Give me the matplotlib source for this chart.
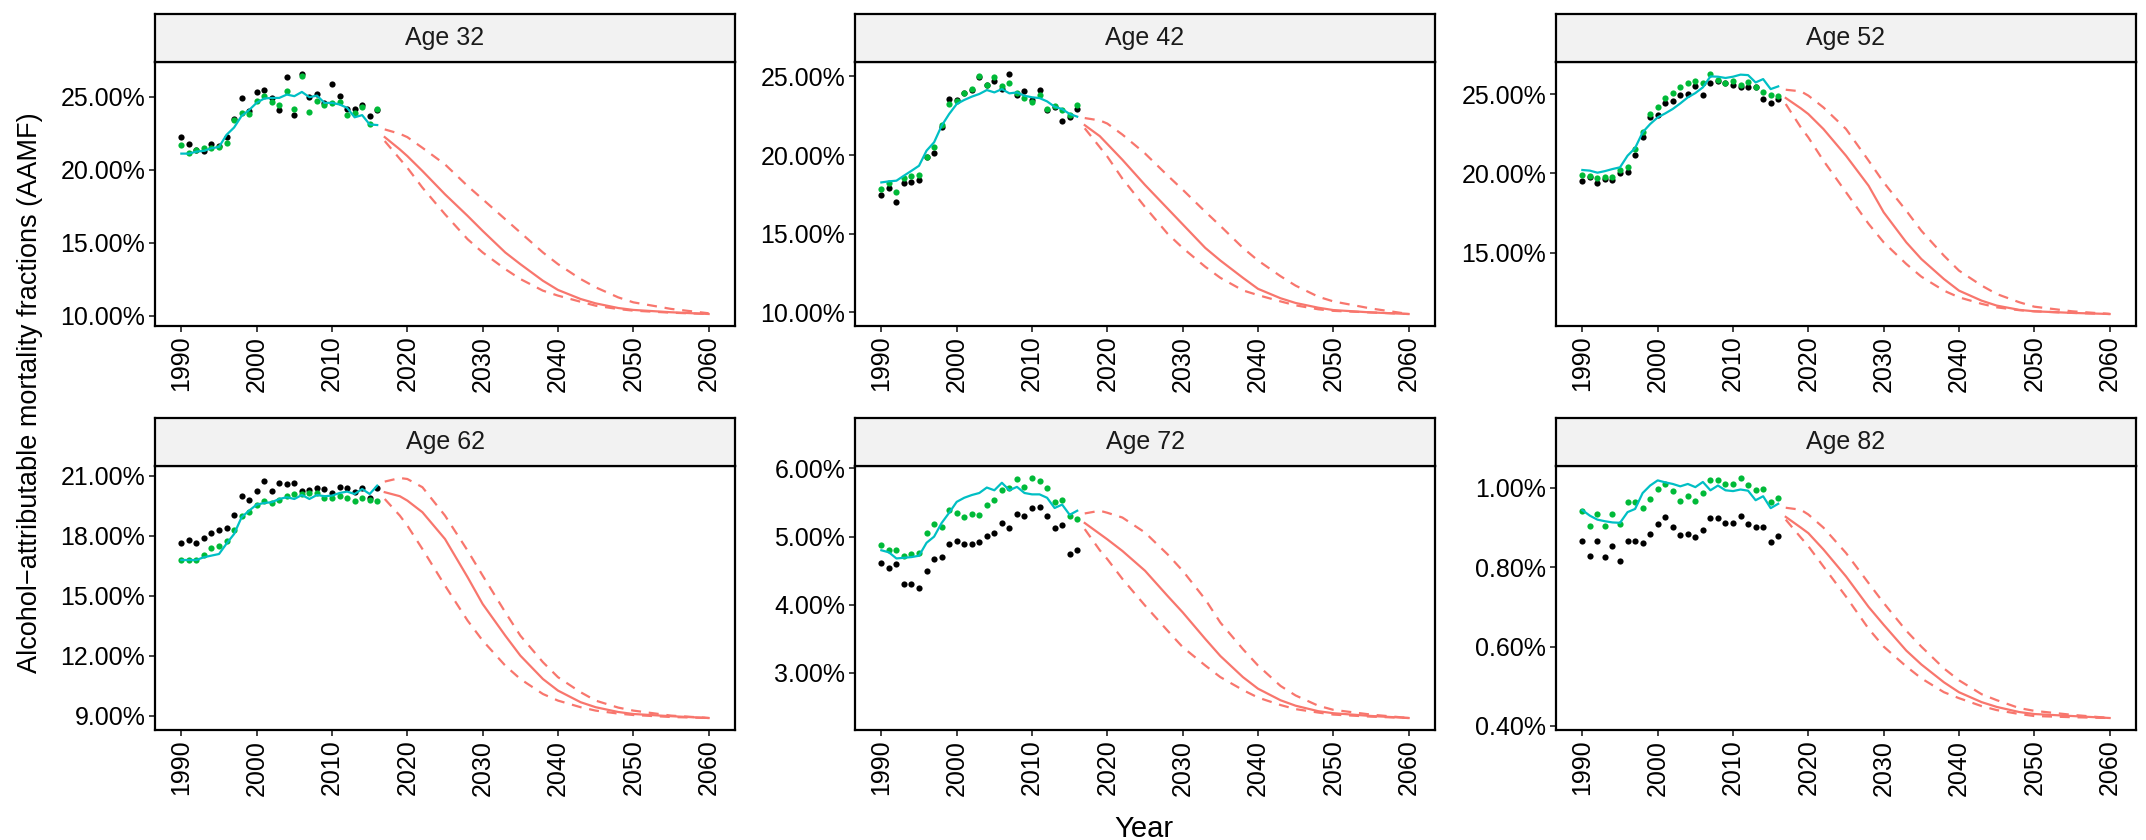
import numpy as np
import matplotlib.pyplot as plt
from matplotlib.ticker import FuncFormatter

plt.rcParams['font.family'] = ['Liberation Sans', 'DejaVu Sans']

# observed years and projection years
years = np.arange(1990, 2017)
proj_years = [2017, 2019, 2020, 2022, 2025, 2028, 2030, 2033, 2035, 2038,
              2040, 2043, 2045, 2048, 2050, 2055, 2060]

ages = ['Age 32', 'Age 42', 'Age 52', 'Age 62', 'Age 72', 'Age 82']

# --- Age 32 ---
obs_32 = [22.25, 21.80, 21.34, 21.27, 21.80, 21.61, 22.27, 23.45, 24.89, 24.02, 25.32, 25.45, 24.93, 24.09,
          26.34, 23.75, 26.57, 24.98, 25.23, 24.59, 25.91, 25.05, 24.14, 24.14, 24.41, 23.68, 24.07]
est_32 = [21.68, 21.18, 21.39, 21.48, 21.48, 21.57, 21.86, 23.39, 23.91, 23.80, 24.75, 25.05, 24.66, 24.41,
          25.39, 24.20, 26.41, 23.93, 24.73, 24.41, 24.61, 24.66, 23.75, 23.91, 24.30, 23.11, 24.14]
fit_32 = [21.11, 21.11, 21.25, 21.30, 21.48, 21.57, 22.40, 22.90, 23.70, 24.10, 24.60, 24.89, 24.93, 24.93,
          25.16, 25.05, 25.34, 24.98, 25.09, 24.59, 24.59, 24.48, 24.25, 23.60, 23.75, 23.11, 23.07]
proj_32 = [22.24, 21.40, 20.94, 19.92, 18.32, 16.84, 15.81, 14.33, 13.53, 12.39, 11.76, 11.14, 10.84, 10.52,
           10.39, 10.23, 10.11]
upper_32 = [22.77, 22.47, 22.24, 21.51, 20.37, 18.89, 17.98, 16.61, 15.70, 14.33, 13.53, 12.51, 11.94, 11.25,
            10.91, 10.46, 10.16]
lower_32 = [21.97, 20.75, 20.14, 18.78, 16.95, 15.24, 14.33, 13.19, 12.51, 11.71, 11.37, 10.95, 10.68, 10.45,
            10.34, 10.20, 10.11]

# --- Age 42 ---
obs_42 = [17.44, 17.90, 17.03, 18.24, 18.28, 18.41, 19.85, 20.13, 21.80, 23.54, 23.50, 23.94, 24.13, 24.98,
          24.47, 24.72, 24.19, 25.15, 23.81, 24.05, 23.50, 24.13, 22.86, 23.07, 22.18, 22.44, 22.90]
est_42 = [17.82, 18.24, 17.65, 18.56, 18.69, 18.71, 19.85, 20.53, 21.91, 23.24, 23.45, 23.94, 24.19, 25.00,
          24.47, 24.94, 24.36, 24.60, 23.94, 23.60, 23.37, 23.79, 22.92, 23.14, 22.84, 22.56, 23.20]
fit_42 = [18.26, 18.33, 18.37, 18.69, 19.00, 19.32, 20.28, 20.81, 21.86, 22.61, 23.24, 23.50, 23.71, 23.88,
          24.13, 23.98, 24.19, 23.92, 23.98, 23.77, 23.67, 23.62, 23.41, 23.07, 22.92, 22.61, 22.44]
proj_42 = [21.90, 21.20, 20.70, 19.70, 18.10, 16.60, 15.60, 14.10, 13.30, 12.20, 11.50, 10.90, 10.60, 10.30,
           10.15, 10.00, 9.90]
upper_42 = [22.35, 22.20, 22.00, 21.30, 20.10, 18.70, 17.80, 16.40, 15.50, 14.10, 13.30, 12.30, 11.70, 11.00,
            10.70, 10.25, 9.90]
lower_42 = [21.70, 20.50, 19.90, 18.50, 16.70, 15.00, 14.10, 12.90, 12.20, 11.40, 11.10, 10.70, 10.45, 10.20,
            10.10, 10.00, 9.90]

# --- Age 52 ---
obs_52 = [19.55, 19.76, 19.40, 19.65, 19.59, 20.05, 20.12, 21.18, 22.30, 23.55, 23.66, 24.45, 24.56, 24.92,
          24.98, 25.52, 24.94, 25.67, 25.84, 25.69, 25.57, 25.42, 25.42, 25.42, 24.66, 24.41, 24.71]
est_52 = [19.93, 19.82, 19.72, 19.80, 19.78, 20.24, 20.39, 21.52, 22.61, 23.72, 24.16, 24.77, 25.06, 25.42,
          25.67, 25.84, 25.67, 26.26, 25.90, 25.71, 25.84, 25.59, 25.75, 25.46, 25.13, 24.94, 24.90]
fit_52 = [20.22, 20.18, 20.05, 20.15, 20.28, 20.39, 21.12, 21.60, 22.59, 23.11, 23.53, 23.78, 24.06, 24.41,
          24.79, 25.06, 25.42, 26.11, 26.09, 26.01, 26.09, 26.22, 26.19, 25.73, 25.94, 25.31, 25.48]
proj_52 = [24.75, 24.10, 23.74, 22.80, 21.12, 19.23, 17.56, 15.67, 14.62, 13.36, 12.63, 12.00, 11.69, 11.42,
           11.33, 11.23, 11.16]
upper_52 = [25.27, 25.17, 24.90, 24.16, 22.80, 20.81, 19.44, 17.66, 16.40, 14.83, 13.89, 12.95, 12.42, 11.90,
            11.62, 11.33, 11.16]
lower_52 = [24.37, 22.90, 22.27, 20.81, 18.82, 16.83, 15.67, 14.31, 13.51, 12.63, 12.21, 11.80, 11.58, 11.40,
            11.33, 11.23, 11.16]

# --- Age 62 ---
obs_62 = [17.63, 17.80, 17.65, 17.90, 18.13, 18.27, 18.40, 19.05, 20.00, 19.80, 20.22, 20.75, 20.25, 20.65,
          20.60, 20.65, 20.23, 20.30, 20.37, 20.33, 20.12, 20.45, 20.37, 20.18, 20.40, 19.87, 20.37]
est_62 = [16.78, 16.78, 16.78, 17.05, 17.40, 17.48, 17.73, 18.30, 18.98, 19.17, 19.55, 19.73, 19.63, 19.80,
          20.00, 20.08, 20.08, 20.12, 20.12, 19.87, 19.87, 19.97, 19.87, 19.75, 19.87, 19.78, 19.72]
fit_62 = [16.78, 16.78, 16.78, 16.92, 17.00, 17.08, 17.60, 18.08, 18.92, 19.25, 19.55, 19.63, 19.67, 19.83,
          19.92, 19.83, 20.03, 19.83, 20.03, 19.97, 20.00, 20.13, 20.20, 20.08, 20.33, 20.08, 20.50]
proj_62 = [20.17, 19.97, 19.75, 19.17, 17.83, 15.92, 14.58, 13.00, 12.00, 10.83, 10.25, 9.67, 9.42, 9.18,
           9.08, 8.97, 8.88]
upper_62 = [20.70, 20.88, 20.83, 20.42, 19.00, 17.25, 16.00, 14.17, 13.00, 11.67, 10.92, 10.17, 9.75, 9.40,
            9.25, 9.00, 8.88]
lower_62 = [19.83, 19.00, 18.50, 17.33, 15.50, 13.75, 12.75, 11.50, 10.83, 10.08, 9.75, 9.42, 9.25, 9.10,
            9.03, 8.93, 8.88]

# --- Age 72 ---
obs_72 = [4.61, 4.54, 4.60, 4.30, 4.31, 4.24, 4.50, 4.67, 4.70, 4.89, 4.93, 4.89, 4.89, 4.92,
          5.01, 5.06, 5.20, 5.12, 5.33, 5.31, 5.42, 5.44, 5.31, 5.13, 5.17, 4.75, 4.80]
est_72 = [4.88, 4.80, 4.80, 4.71, 4.75, 4.76, 5.05, 5.18, 5.14, 5.39, 5.34, 5.29, 5.33, 5.32,
          5.47, 5.54, 5.69, 5.71, 5.85, 5.73, 5.86, 5.82, 5.71, 5.51, 5.54, 5.31, 5.26]
fit_72 = [4.80, 4.77, 4.68, 4.69, 4.70, 4.72, 4.91, 5.00, 5.20, 5.35, 5.51, 5.57, 5.61, 5.64,
          5.72, 5.68, 5.79, 5.68, 5.73, 5.64, 5.62, 5.62, 5.57, 5.42, 5.47, 5.32, 5.38]
proj_72 = [5.20, 5.04, 4.96, 4.79, 4.50, 4.13, 3.89, 3.50, 3.25, 2.94, 2.77, 2.60, 2.52, 2.44,
           2.41, 2.37, 2.34]
upper_72 = [5.34, 5.38, 5.35, 5.28, 5.06, 4.74, 4.50, 4.08, 3.74, 3.35, 3.11, 2.81, 2.67, 2.52,
            2.46, 2.39, 2.34]
lower_72 = [5.11, 4.80, 4.67, 4.38, 3.99, 3.62, 3.38, 3.11, 2.94, 2.75, 2.64, 2.53, 2.47, 2.42,
            2.39, 2.36, 2.34]

# --- Age 82 ---
obs_82 = [0.865, 0.829, 0.865, 0.826, 0.853, 0.816, 0.865, 0.867, 0.860, 0.884, 0.909, 0.926, 0.902, 0.881,
          0.885, 0.876, 0.895, 0.923, 0.923, 0.912, 0.912, 0.928, 0.908, 0.902, 0.901, 0.864, 0.878]
est_82 = [0.943, 0.904, 0.935, 0.903, 0.933, 0.908, 0.964, 0.965, 0.949, 0.971, 0.997, 1.009, 0.992, 0.967,
          0.979, 0.966, 0.988, 1.019, 1.020, 1.009, 1.009, 1.025, 1.008, 0.994, 0.997, 0.965, 0.975]
fit_82 = [0.944, 0.930, 0.920, 0.916, 0.913, 0.912, 0.939, 0.947, 0.987, 1.006, 1.019, 1.014, 1.010, 1.004,
          1.010, 1.002, 1.015, 0.994, 1.006, 0.994, 0.992, 0.996, 0.993, 0.969, 0.979, 0.949, 0.960]
proj_82 = [0.927, 0.900, 0.886, 0.845, 0.777, 0.700, 0.655, 0.590, 0.555, 0.510, 0.485, 0.460, 0.448, 0.435,
           0.430, 0.425, 0.420]
upper_82 = [0.950, 0.945, 0.933, 0.900, 0.836, 0.760, 0.710, 0.640, 0.600, 0.545, 0.515, 0.480, 0.465, 0.445,
            0.438, 0.428, 0.420]
lower_82 = [0.920, 0.875, 0.853, 0.802, 0.726, 0.645, 0.600, 0.550, 0.520, 0.485, 0.470, 0.450, 0.440, 0.430,
            0.425, 0.422, 0.420]

yticks_32 = [10, 15, 20, 25]
yticks_42 = [10, 15, 20, 25]
yticks_52 = [15, 20, 25]
yticks_62 = [9, 12, 15, 18, 21]
yticks_72 = [3, 4, 5, 6]
yticks_82 = [0.4, 0.6, 0.8, 1.0]
xticks = [1990, 2000, 2010, 2020, 2030, 2040, 2050, 2060]

panels = [
    (obs_32, est_32, fit_32, proj_32, upper_32, lower_32, yticks_32),
    (obs_42, est_42, fit_42, proj_42, upper_42, lower_42, yticks_42),
    (obs_52, est_52, fit_52, proj_52, upper_52, lower_52, yticks_52),
    (obs_62, est_62, fit_62, proj_62, upper_62, lower_62, yticks_62),
    (obs_72, est_72, fit_72, proj_72, upper_72, lower_72, yticks_72),
    (obs_82, est_82, fit_82, proj_82, upper_82, lower_82, yticks_82),
]

RED = '#F8766D'
CYAN = '#00BFC4'
GREEN = '#00BA38'

W, H = 2146, 840
fig = plt.figure(figsize=(W / 100, H / 100), dpi=100)

lefts = [155, 855, 1556]
tops = [62, 466]
pw, ph, sh = 580, 264, 48

pct = FuncFormatter(lambda v, p: f'{v:.2f}%')

for i, (obs, est, fit, proj, up, lo, yt) in enumerate(panels):
    l = lefts[i % 3]
    t = tops[i // 3]
    ax = fig.add_axes([l / W, 1 - (t + ph) / H, pw / W, ph / H])
    sax = fig.add_axes([l / W, 1 - t / H, pw / W, sh / H])

    ax.scatter(years, obs, s=20, color='black', linewidths=0, zorder=3)
    ax.scatter(years, est, s=20, color=GREEN, linewidths=0, zorder=3)
    ax.plot(years, fit, color=CYAN, lw=1.6, zorder=4)
    ax.plot(proj_years, proj, color=RED, lw=1.6)
    ax.plot(proj_years, up, color=RED, lw=1.6, dashes=(4.5, 3.5))
    ax.plot(proj_years, lo, color=RED, lw=1.6, dashes=(4.5, 3.5))

    ax.set_xlim(1986.5, 2063.5)
    ax.margins(y=0.05)
    ax.set_xticks(xticks)
    ax.set_yticks(yt)
    ax.yaxis.set_major_formatter(pct)
    ax.tick_params(axis='x', labelrotation=90)
    ax.tick_params(length=4, width=1.3, color='#333333', labelsize=18, labelcolor='black', pad=3)
    for s in ax.spines.values():
        s.set_linewidth(1.6)
        s.set_color('black')

    sax.set_facecolor('#F2F2F2')
    sax.set_xticks([])
    sax.set_yticks([])
    for s in sax.spines.values():
        s.set_linewidth(1.6)
        s.set_color('black')
    sax.text(0.5, 0.5, ages[i], ha='center', va='center', fontsize=18, color='#1A1A1A',
             transform=sax.transAxes)

fig.text(30 / W, 1 - 393 / H, 'Alcohol\u2212attributable mortality fractions (AAMF)',
         rotation=90, ha='center', va='center', fontsize=19.5)
fig.text(1144 / W, 1 - 829 / H, 'Year', ha='center', va='center', fontsize=21)

fig.savefig('out.png', dpi=100)
